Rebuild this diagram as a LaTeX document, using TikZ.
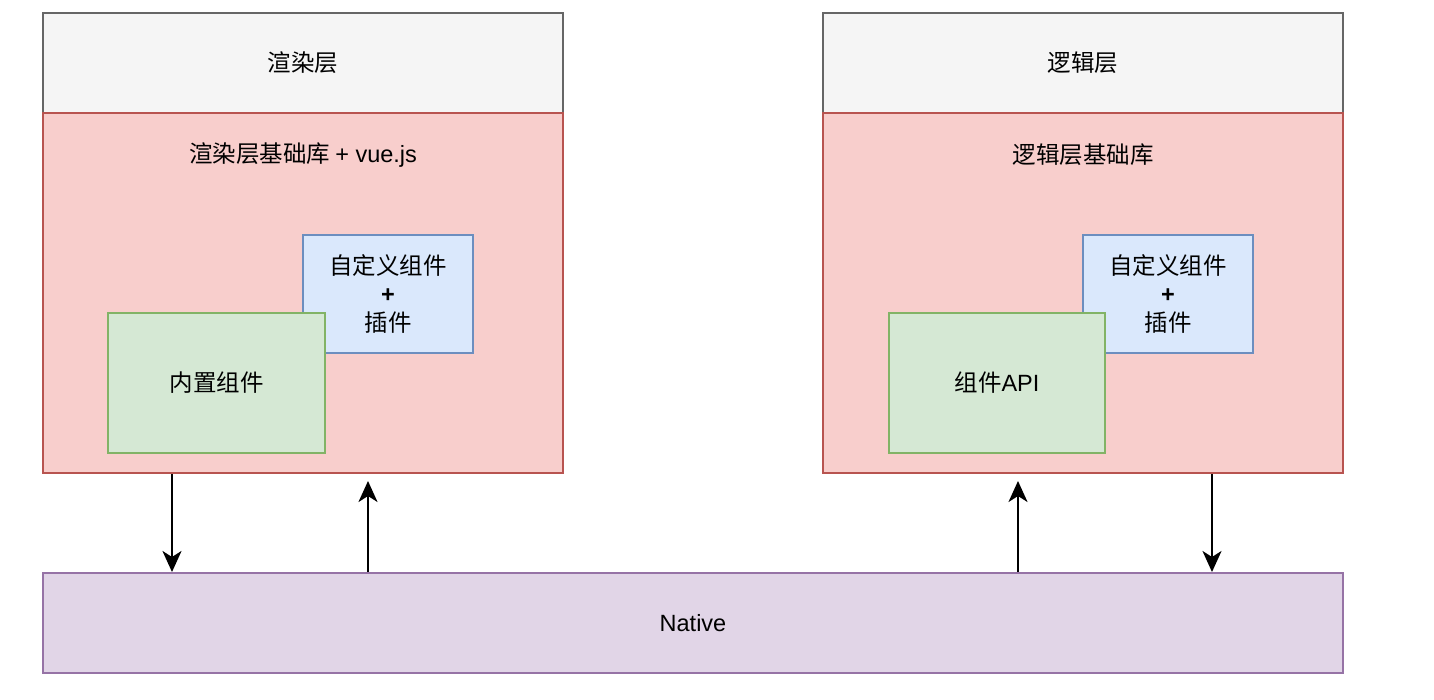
\documentclass[tikz,border=0pt]{standalone}
\usepackage{fontspec}
\setmainfont{Liberation Sans}
\newfontfamily\cjk{Noto Sans CJK SC}
\usetikzlibrary{arrows.meta}
\definecolor{grayfill}{HTML}{F5F5F5}
\definecolor{graydraw}{HTML}{666666}
\definecolor{redfill}{HTML}{F8CECC}
\definecolor{reddraw}{HTML}{B85450}
\definecolor{bluefill}{HTML}{DAE8FC}
\definecolor{bluedraw}{HTML}{6C8EBF}
\definecolor{greenfill}{HTML}{D5E8D4}
\definecolor{greendraw}{HTML}{82B366}
\definecolor{purplefill}{HTML}{E1D5E7}
\definecolor{purpledraw}{HTML}{9673A6}
\tikzset{
  box/.style={rectangle, inner sep=0pt, line width=2pt, align=center,
    font=\fontsize{23.5}{29}\selectfont},
  graybox/.style={box, fill=grayfill, draw=graydraw, minimum width=520pt, minimum height=100pt},
  redbox/.style={box, fill=redfill, draw=reddraw, minimum width=520pt, minimum height=360pt},
  bluebox/.style={box, fill=bluefill, draw=bluedraw, minimum width=170pt, minimum height=118pt},
  greenbox/.style={box, fill=greenfill, draw=greendraw, minimum height=140pt},
  purplebox/.style={box, fill=purplefill, draw=purpledraw, minimum width=1300pt, minimum height=100pt},
  txt/.style={inner sep=0pt, font=\fontsize{23.5}{29}\selectfont},
  arr/.style={line width=2.2pt, -{Stealth[length=21pt,width=19pt,inset=6pt]}},
}
\begin{document}
\begin{tikzpicture}[x=1pt,y=-1pt]
\useasboundingbox (0,0) rectangle (1434,700);
% left column
\node[graybox] (lgray) at (303,63) {\cjk 渲染层};
\node[redbox] (lred) at (303,293) {};
\node[txt] (ltitle) at (303,155) {\cjk 渲染层基础库\ \normalfont + vue.js};
\node[bluebox] (lblue) at (388,294) {\cjk 自定义组件\\\textbf{+}\\\cjk 插件};
\node[greenbox, minimum width=217pt] (lgreen) at (216.5,383) {\cjk 内置组件};
% right column
\node[graybox] (rgray) at (1083,63) {\cjk 逻辑层};
\node[redbox] (rred) at (1083,293) {};
\node[txt] (rtitle) at (1083,155) {\cjk 逻辑层基础库};
\node[bluebox] (rblue) at (1168,294) {\cjk 自定义组件\\\textbf{+}\\\cjk 插件};
\node[greenbox, minimum width=216pt] (rgreen) at (997,383) {{\cjk 组件}API};
% native
\node[purplebox] (native) at (693,623) {Native};
% arrows
\draw[arr] ([xshift=130pt]lred.south west) -- ([xshift=130pt]native.north west);
\draw[arr, shorten >=7pt] ([xshift=326pt]native.north west) -- ([xshift=326pt]lred.south west);
\draw[arr, shorten >=7pt] ([xshift=976pt]native.north west) -- ([xshift=196pt]rred.south west);
\draw[arr] ([xshift=390pt]rred.south west) -- ([xshift=1170pt]native.north west);
\end{tikzpicture}
\end{document}
